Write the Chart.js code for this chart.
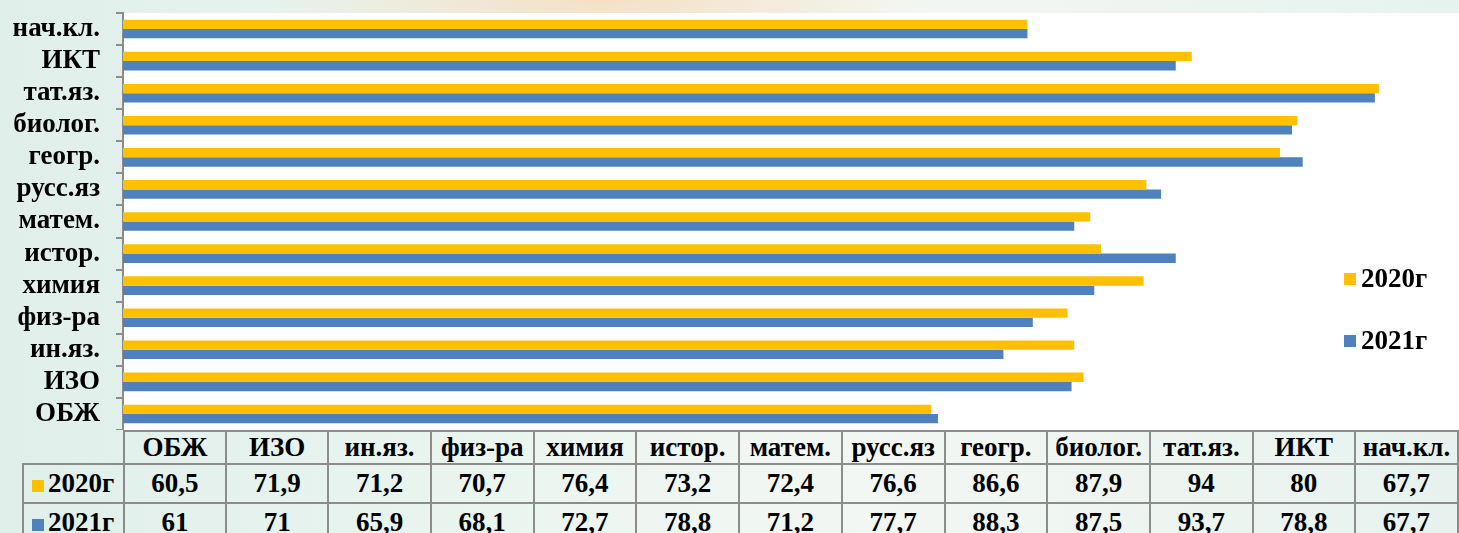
<!DOCTYPE html>
<html>
<head>
<meta charset="utf-8">
<script src="https://cdn.jsdelivr.net/npm/chart.js@4/dist/chart.umd.min.js"></script>
<style>
  html, body { margin: 0; padding: 0; }
  body {
    width: 1459px; height: 533px; overflow: hidden; position: relative;
    font-family: "Liberation Serif", "Times New Roman", serif;
    background:
      radial-gradient(ellipse 330px 70px at 600px 0px, rgba(250, 214, 178, 0.7), rgba(250, 214, 178, 0) 100%),
      linear-gradient(90deg, #e0efea 0%, #ebf5f0 35%, #f3f7f3 60%, #e7f2ee 100%);
  }
  #wrap { position: absolute; left: 0; top: 0; width: 1459px; height: 430px; }
  .leg { position: absolute; left: 1344px; display: flex; align-items: center;
         font-weight: bold; font-size: 27px; color: #000; }
  .leg i { display: inline-block; width: 12px; height: 12px; margin-right: 5px; }
  #tbl { position: absolute; left: 22px; top: 430px; border-collapse: collapse;
         table-layout: fixed; font-weight: bold; font-size: 27px; color: #000; }
  #tbl td { border: 2px solid #8c8c8c; text-align: center; padding: 0; white-space: nowrap; overflow: hidden; }
  #tbl tr.hd td { height: 29px; }
  #tbl tr.r td { height: 37px; }
  #tbl td.corner { border-top: none; border-left: none; }
  #tbl td.name { text-align: left; padding-left: 8px; }
  #tbl td.name i { display: inline-block; width: 12px; height: 12px; margin-right: 4px; }
</style>
</head>
<body>
<div id="wrap"><canvas id="mycanvas"></canvas></div>
<div class="leg" style="top:263px"><i style="background:#FFC000"></i>2020г</div>
<div class="leg" style="top:325px"><i style="background:#4F81BD"></i>2021г</div>
<table id="tbl"></table>
<script>
var subjects = ['ОБЖ','ИЗО','ин.яз.','физ-ра','химия','истор.','матем.','русс.яз','геогр.','биолог.','тат.яз.','ИКТ','нач.кл.'];
var seriesNames = ['2020г','2021г'];
var values2020 = [60.5, 71.9, 71.2, 70.7, 76.4, 73.2, 72.4, 76.6, 86.6, 87.9, 94, 80, 67.7];
var values2021 = [61, 71, 65.9, 68.1, 72.7, 78.8, 71.2, 77.7, 88.3, 87.5, 93.7, 78.8, 67.7];
var colors = ['#FFC000', '#4F81BD'];

// white plot area behind the bars
var plotBg = {
  id: 'plotBg',
  beforeDraw: function(chart) {
    var a = chart.chartArea, ctx = chart.ctx;
    ctx.save();
    ctx.fillStyle = '#ffffff';
    ctx.fillRect(a.left, a.top, a.right - a.left, a.bottom - a.top);
    ctx.restore();
  }
};

var chartdata = {
  labels: subjects,
  datasets: [
    { label: seriesNames[0], backgroundColor: colors[0], data: values2020 },
    { label: seriesNames[1], backgroundColor: colors[1], data: values2021 }
  ]
};

new Chart(document.getElementById('mycanvas'), {
  type: 'bar',
  data: chartdata,
  plugins: [plotBg],
  options: {
    indexAxis: 'y',
    responsive: true,
    maintainAspectRatio: false,
    animation: false,
    layout: { padding: { top: 13, left: 0, right: 0, bottom: 0 } },
    datasets: { bar: { categoryPercentage: 0.58, barPercentage: 1.0 } },
    plugins: { legend: { display: false }, tooltip: { enabled: false } },
    scales: {
      x: { display: false, min: 0, max: 100 },
      y: {
        reverse: true,
        // fixed axis width, no extra label padding above/below the plot
        afterFit: function(scale) {
          scale.width = 123;
          scale.paddingTop = 0;
          scale.paddingBottom = 0;
        },
        border: { display: true, color: '#8c8c8c', width: 2 },
        grid: { offset: true, drawOnChartArea: false, drawTicks: true, tickLength: 7, color: '#8c8c8c', lineWidth: 2 },
        ticks: { color: '#000', padding: 16, autoSkip: false, font: { family: 'Liberation Serif', size: 27, weight: 'bold' } }
      }
    }
  }
});

// data table under the chart
function fmt(v) { return String(v).replace('.', ','); }
var tbl = document.getElementById('tbl');
var html = '<colgroup><col style="width:101px">';
for (var i = 0; i < subjects.length; i++) html += '<col style="width:103.3px">';
html += '</colgroup><tr class="hd"><td class="corner"></td>';
for (var i = 0; i < subjects.length; i++) html += '<td>' + subjects[i] + '</td>';
html += '</tr>';
var rows = [values2020, values2021];
for (var r = 0; r < rows.length; r++) {
  html += '<tr class="r"><td class="name"><i style="background:' + colors[r] + '"></i>' + seriesNames[r] + '</td>';
  for (var i = 0; i < subjects.length; i++) html += '<td>' + fmt(rows[r][i]) + '</td>';
  html += '</tr>';
}
tbl.innerHTML = html;
</script>
</body>
</html>
